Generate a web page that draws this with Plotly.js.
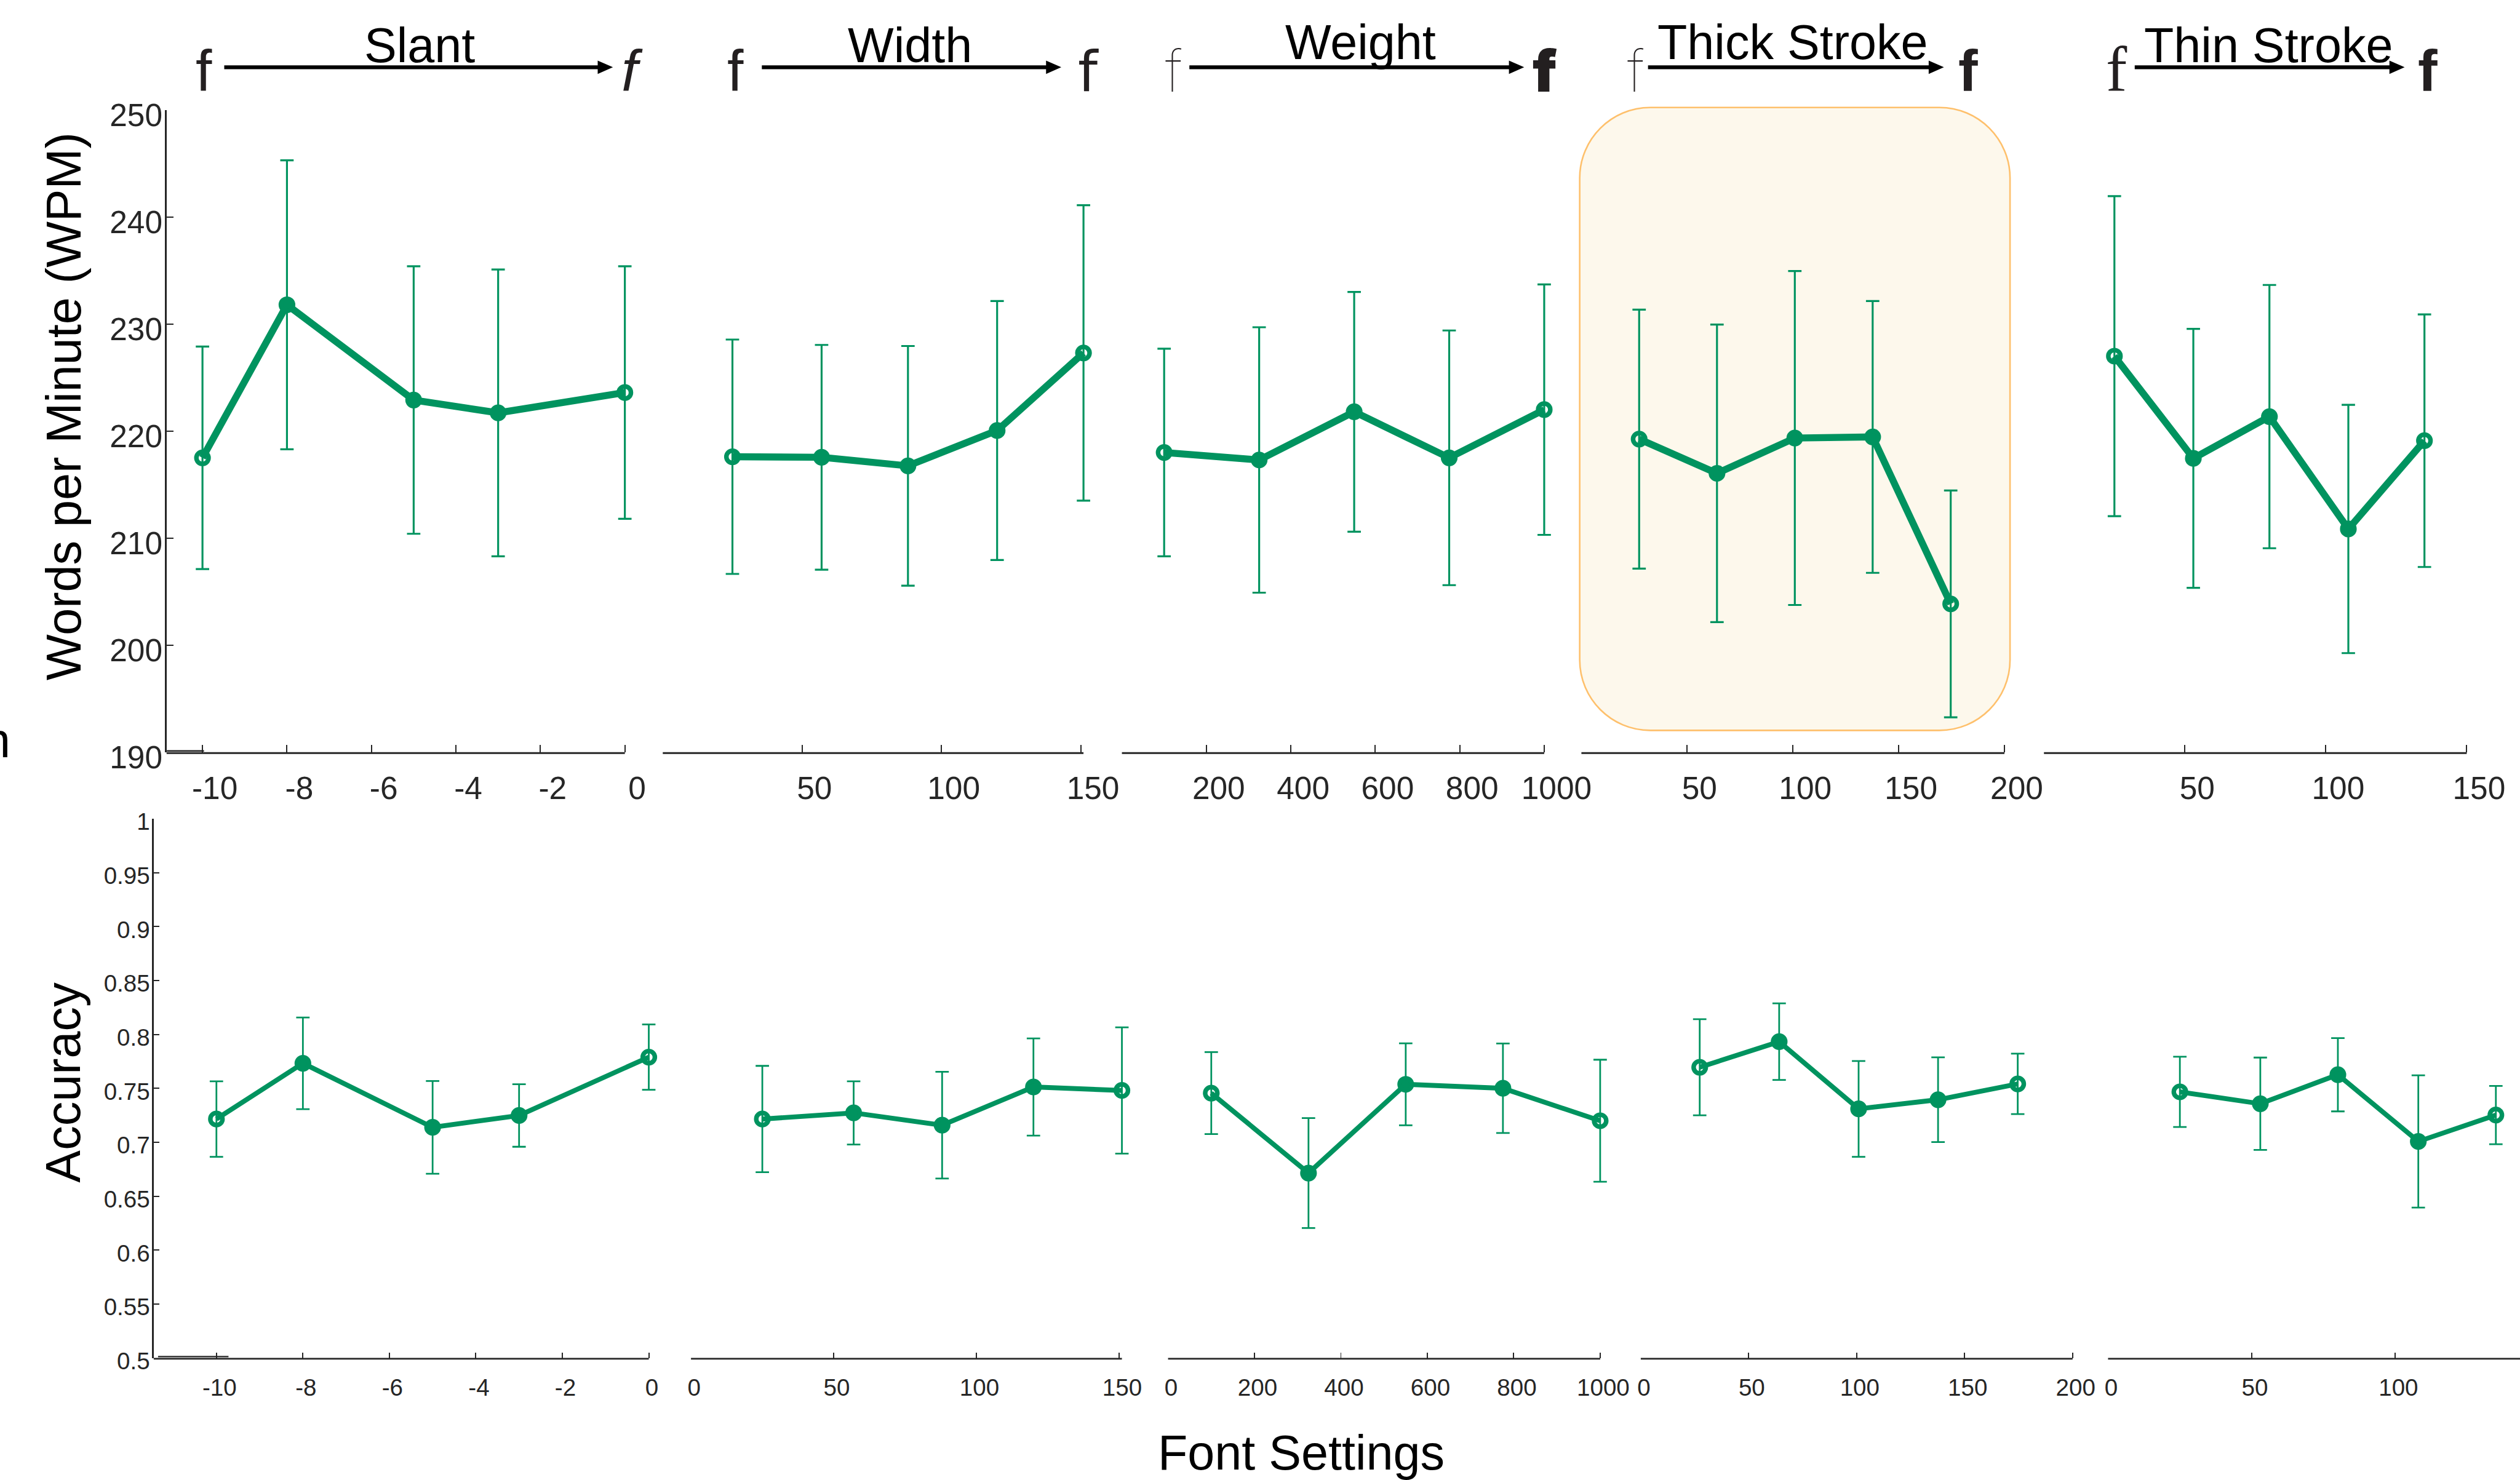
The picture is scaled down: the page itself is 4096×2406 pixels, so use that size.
<!DOCTYPE html>
<html><head><meta charset="utf-8">
<script src="https://cdn.plot.ly/plotly-3.0.1.min.js"></script>
<style>html,body{margin:0;padding:0;background:#fff;overflow:hidden}#chart{width:4096px;height:2406px}</style>
</head><body><div id="chart"></div>
<script>
// ---------------- data ----------------
const slantX = [-10, -8, -5, -3, 0];
const slantWPM = [217.5, 231.8, 222.9, 221.7, 223.6];
const slantWPMErr = [10.4, 13.5, 12.5, 13.4, 11.8];
const slantAcc = [0.7215, 0.7732, 0.7138, 0.7248, 0.7789];
const slantAccErr = [0.035, 0.0425, 0.043, 0.029, 0.0303];

const widthX = [25, 57, 88, 120, 151];
const widthWPM = [217.6, 217.55, 216.75, 220.05, 227.3];
const widthWPMErr = [10.95, 10.5, 11.2, 12.1, 13.8];
const widthAcc = [0.7215, 0.7272, 0.7158, 0.7512, 0.748];
const widthAccErr = [0.0493, 0.0293, 0.0495, 0.045, 0.0585];

const weightX = [100, 325, 550, 775, 1000];
const weightWPM = [218.0, 217.3, 221.8, 217.5, 222.0];
const weightWPMErr = [9.7, 12.4, 11.2, 11.9, 11.7];
const weightAcc = [0.7455, 0.6714, 0.7537, 0.75, 0.7199];
const weightAccErr = [0.038, 0.051, 0.038, 0.0415, 0.0566];

const thickX = [27.3, 64.1, 100.9, 137.7, 174.6];
const thickWPM = [219.25, 216.05, 219.35, 219.45, 203.85];
const thickWPMErr = [12.1, 13.9, 15.6, 12.7, 10.6];
const thickAcc = [0.7695, 0.7932, 0.7309, 0.7394, 0.7541];
const thickAccErr = [0.0446, 0.0355, 0.0444, 0.0393, 0.028];

const thinX = [25, 53, 80, 108, 135];
const thinWPM = [227.0, 217.45, 221.35, 210.85, 219.1];
const thinWPMErr = [14.95, 12.1, 12.3, 11.6, 11.8];
const thinAcc = [0.7467, 0.7357, 0.7626, 0.7007, 0.7252];
const thinAccErr = [0.0326, 0.0428, 0.034, 0.0613, 0.027];

const panelTitles = ['Slant', 'Width', 'Weight', 'Thick Stroke', 'Thin Stroke'];

const wpmTicks = [190, 200, 210, 220, 230, 240, 250];
const wpmTickText = ['190', '200', '210', '220', '230', '240', '250'];
const accTicks = [0.5, 0.55, 0.6, 0.65, 0.7, 0.75, 0.8, 0.85, 0.9, 0.95, 1];
const accTickText = ['0.5', '0.55', '0.6', '0.65', '0.7', '0.75', '0.8', '0.85', '0.9', '0.95', '1'];

const slantTicks = [-10, -8, -6, -4, -2, 0];
const slantTickText = ['-10', '-8', '-6', '-4', '-2', '0'];
const widthTicks = [0, 50, 100, 150];
const widthTickTextTop = ['', '50', '100', '150'];
const widthTickTextBottom = ['0', '50', '100', '150'];
const weightTicks = [0, 200, 400, 600, 800, 1000];
const weightTickTextTop = ['', '200', '400', '600', '800', '1000'];
const weightTickTextBottom = ['0', '200', '400', '600', '800', '1000'];
const thickTicks = [0, 50, 100, 150, 200];
const thickTickTextTop = ['', '50', '100', '150', '200'];
const thickTickTextBottom = ['0', '50', '100', '150', '200'];
const thinTicks = [0, 50, 100, 150];
const thinTickTextTop = ['', '50', '100', '150'];
const thinTickTextBottom = ['0', '50', '100', '150'];

// ---------------- geometry helpers (reference px -> paper) ----------------
const S = 0.989, RW = 4139, RH = 2431;
const fx = p => p / RW, fy = p => 1 - p / RH;
const GREEN = '#00935f';
const INK = '#262626';
const FONT = 'Liberation Sans, Arial, sans-serif';
const I = v => Math.round(v);

const series = [
  {x: slantX, top: [slantWPM, slantWPMErr], bot: [slantAcc, slantAccErr]},
  {x: widthX, top: [widthWPM, widthWPMErr], bot: [widthAcc, widthAccErr]},
  {x: weightX, top: [weightWPM, weightWPMErr], bot: [weightAcc, weightAccErr]},
  {x: thickX, top: [thickWPM, thickWPMErr], bot: [thickAcc, thickAccErr]},
  {x: thinX, top: [thinWPM, thinWPMErr], bot: [thinAcc, thinAccErr]}
];

// axis-line extents (reference px) and data ranges
const topAxes = [
  {d: [273.6, 1026.3], r: [-10.85, 0], tv: slantTicks, tt: slantTickText},
  {d: [1088.6, 1779.6], r: [0, 151], tv: widthTicks, tt: widthTickTextTop},
  {d: [1842.7, 2536.3], r: [0, 1000], tv: weightTicks, tt: weightTickTextTop},
  {d: [2597.4, 3292.2], r: [0, 200], tv: thickTicks, tt: thickTickTextTop},
  {d: [3357.1, 4051.5], r: [0, 150], tv: thinTicks, tt: thinTickTextTop}
];
const botAxes = [
  {d: [252.5, 1065.6], r: [-11.45, 0], tv: slantTicks, tt: slantTickText},
  {d: [1134.9, 1842.7], r: [0, 151], tv: widthTicks, tt: widthTickTextBottom},
  {d: [1918.5, 2628.2], r: [0, 1000], tv: weightTicks, tt: weightTickTextBottom},
  {d: [2694.9, 3404.1], r: [0, 200], tv: thickTicks, tt: thickTickTextBottom},
  {d: [3462.4, 4139], r: [0, 143.4], tv: thinTicks, tt: thinTickTextBottom}
];
const TOP_AX_Y = 1235.4, BOT_AX_Y = 2230.5;
const yTopDom = [fy(TOP_AX_Y), fy(180.7)];
const yBotDom = [fy(BOT_AX_Y), fy(1344.7)];
const PADR = 16; // extra room on the right so end error bars are not clipped

const traces = [];
const layout = {
  width: 4096, height: 2406,
  margin: {l: 0, r: 0, t: 0, b: 0, pad: 0},
  paper_bgcolor: '#ffffff', plot_bgcolor: 'rgba(0,0,0,0)',
  showlegend: false, hovermode: false,
  font: {family: FONT, color: INK},
  shapes: [], annotations: []
};

function mkTrace(xs, ys, errs, k, isTop) {
  const n = xs.length;
  const id = k === 1 ? '' : String(k);
  return {
    type: 'scatter', mode: 'lines+markers', x: xs, y: ys,
    xaxis: 'x' + id, yaxis: 'y' + id, cliponaxis: false,
    line: {color: GREEN, width: (isTop ? 11.5 : 8) * S},
    marker: {color: GREEN, size: 20 * S,
      symbol: xs.map((_, i) => (i === 0 || i === n - 1) ? 'circle-open' : 'circle'),
      line: {color: GREEN, width: 7.5 * S}},
    error_y: {type: 'data', array: errs, symmetric: true, color: GREEN,
      thickness: (isTop ? 3.2 : 2.8) * S, width: 11 * S},
    hoverinfo: 'skip'
  };
}

function extend(ax) {
  if (ax.d[1] >= RW) return {dom: [fx(ax.d[0]), 1], range: ax.r};
  const upp = (ax.r[1] - ax.r[0]) / (ax.d[1] - ax.d[0]);
  return {dom: [fx(ax.d[0]), fx(ax.d[1] + PADR)], range: [ax.r[0], ax.r[1] + PADR * upp]};
}

for (let i = 0; i < 5; i++) {
  const kt = i + 1, kb = i + 6;
  traces.push(mkTrace(series[i].x, series[i].top[0], series[i].top[1], kt, true));
  traces.push(mkTrace(series[i].x, series[i].bot[0], series[i].bot[1], kb, false));

  const ta = topAxes[i], ba = botAxes[i];
  const et = extend(ta), eb = extend(ba);
  const nameX = k => 'xaxis' + (k === 1 ? '' : k), nameY = k => 'yaxis' + (k === 1 ? '' : k);
  const anc = k => (k === 1 ? '' : String(k));
  layout[nameX(kt)] = {
    domain: et.dom, range: et.range, anchor: 'y' + anc(kt),
    showline: false, ticks: 'inside', ticklen: 12 * S,
    tickwidth: 2 * S, tickcolor: INK, tickmode: 'array', tickvals: ta.tv, ticktext: ta.tt,
    tickfont: {family: FONT, size: 52 * S, color: INK}, ticklabelstandoff: I(24 * S),
    ticklabelshift: I(20 * S), showgrid: false, zeroline: false, fixedrange: true
  };
  layout[nameX(kb)] = {
    domain: eb.dom, range: eb.range, anchor: 'y' + anc(kb),
    showline: false, ticks: 'inside', ticklen: 9 * S,
    tickwidth: 2 * S, tickcolor: INK, tickmode: 'array', tickvals: ba.tv, ticktext: ba.tt,
    tickfont: {family: FONT, size: 39 * S, color: INK}, ticklabelstandoff: I(22 * S),
    ticklabelshift: I(5 * S), showgrid: false, zeroline: false, fixedrange: true
  };
  // axis lines drawn at their exact extents
  layout.shapes.push({type: 'line', xref: 'paper', yref: 'paper', x0: fx(ta.d[0]), x1: fx(ta.d[1]),
    y0: fy(TOP_AX_Y + 1.5), y1: fy(TOP_AX_Y + 1.5), line: {color: INK, width: 3 * S}});
  layout.shapes.push({type: 'line', xref: 'paper', yref: 'paper', x0: fx(ba.d[0]), x1: Math.min(1, fx(ba.d[1])),
    y0: fy(BOT_AX_Y + 1.3), y1: fy(BOT_AX_Y + 1.3), line: {color: INK, width: 2.6 * S}});

  const first = i === 0;
  layout[nameY(kt)] = {
    domain: yTopDom, range: [190, 250], anchor: 'x' + anc(kt),
    visible: first, showline: first, linecolor: INK, linewidth: 2.5 * S,
    ticks: first ? 'inside' : '', ticklen: 11 * S, tickwidth: 2 * S, tickcolor: INK,
    tickmode: 'array', tickvals: wpmTicks, ticktext: wpmTickText,
    tickfont: {family: FONT, size: 52 * S, color: INK}, ticklabelstandoff: I(-6 * S),
    ticklabelshift: I(8 * S), showgrid: false, zeroline: false, fixedrange: true
  };
  layout[nameY(kb)] = {
    domain: yBotDom, range: [0.5, 1], anchor: 'x' + anc(kb),
    visible: first, showline: first, linecolor: INK, linewidth: 2.5 * S,
    ticks: first ? 'inside' : '', ticklen: 9 * S, tickwidth: 2 * S, tickcolor: INK,
    tickmode: 'array', tickvals: accTicks, ticktext: accTickText,
    tickfont: {family: FONT, size: 39 * S, color: INK}, ticklabelstandoff: I(-4 * S),
    ticklabelshift: I(5 * S), showgrid: false, zeroline: false, fixedrange: true
  };
}

// highlight rounded box behind the Thick Stroke panel
(function () {
  const L = 2594.6, R = 3301.4, T = 176.6, B = 1199.7, r = 116, k = 0.5523 * r;
  const P = (x, y) => fx(x) + ',' + fy(y);
  const path = 'M' + P(L + r, T) + ' L' + P(R - r, T) +
    ' C' + P(R - r + k, T) + ' ' + P(R, T + r - k) + ' ' + P(R, T + r) +
    ' L' + P(R, B - r) +
    ' C' + P(R, B - r + k) + ' ' + P(R - r + k, B) + ' ' + P(R - r, B) +
    ' L' + P(L + r, B) +
    ' C' + P(L + r - k, B) + ' ' + P(L, B - r + k) + ' ' + P(L, B - r) +
    ' L' + P(L, T + r) +
    ' C' + P(L, T + r - k) + ' ' + P(L + r - k, T) + ' ' + P(L + r, T) + ' Z';
  layout.shapes.push({type: 'path', xref: 'paper', yref: 'paper', path: path, layer: 'below',
    fillcolor: '#fdf8ec', line: {color: '#fec06c', width: 2.6 * S}});
})();

// header arrows
const arrowSpans = [[368.3, 1006.7], [1251.3, 1743.1], [1953.5, 2503.4], [2706.8, 3192.8], [3506.2, 3949.5]];
const AY = 110.5;
arrowSpans.forEach(([a, b]) => {
  layout.shapes.push({type: 'line', xref: 'paper', yref: 'paper', x0: fx(a), x1: fx(b - 16), y0: fy(AY), y1: fy(AY),
    line: {color: '#000', width: 6.5 * S}});
  layout.shapes.push({type: 'path', xref: 'paper', yref: 'paper',
    path: 'M' + fx(b) + ',' + fy(AY) + ' L' + fx(b - 25) + ',' + fy(AY - 11) + ' L' + fx(b - 25) + ',' + fy(AY + 11) + ' Z',
    fillcolor: '#000', line: {width: 0}});
});

// small stray segments near the first x-axes (present in reference)
layout.shapes.push({type: 'line', xref: 'paper', yref: 'paper', x0: fx(274), x1: fx(335), y0: fy(1233.5), y1: fy(1233.5), line: {color: INK, width: 2.5 * S}});
layout.shapes.push({type: 'line', xref: 'paper', yref: 'paper', x0: fx(259.6), x1: fx(375.3), y0: fy(2228.3), y1: fy(2228.3), line: {color: INK, width: 2.5 * S}});

// panel titles
const titleCenters = [[689, 74.6], [1495, 74.6], [2235, 68.8], [2944.6, 68.8], [3726, 74.6]];
panelTitles.forEach((t, i) => {
  layout.annotations.push({text: t, xref: 'paper', yref: 'paper', x: fx(titleCenters[i][0]), y: fy(titleCenters[i][1]),
    xanchor: 'center', yanchor: 'middle', showarrow: false,
    font: {family: FONT, size: 80 * S, color: '#000'}});
});

// the "f" glyph specimens at both ends of each arrow
const glyphs = [
  {x: 335, fam: FONT, size: 96, w: 400, st: 'normal'},
  {x: 1038, fam: FONT, size: 96, w: 400, st: 'italic'},
  {x: 1208.5, fam: 'Liberation Sans Narrow, Liberation Sans', size: 96, w: 400, st: 'normal'},
  {x: 1787.5, fam: 'DejaVu Sans', size: 92, w: 400, st: 'normal'},
  {x: 1928, fam: 'Inter, Lato, sans-serif', size: 95, w: 100, st: 'normal'},
  {x: 2537, fam: 'Inter, Roboto, sans-serif', size: 95, w: 900, st: 'normal'},
  {x: 2687, fam: 'Inter, Lato, sans-serif', size: 95, w: 100, st: 'normal'},
  {x: 3233, fam: FONT, size: 96, w: 700, st: 'normal'},
  {x: 3477, fam: 'Liberation Serif, serif', size: 104, w: 400, st: 'normal'},
  {x: 3987, fam: FONT, size: 96, w: 700, st: 'normal'}
];
glyphs.forEach(g => {
  layout.annotations.push({text: 'f', xref: 'paper', yref: 'paper', x: fx(g.x), y: fy(149.2 - 0.3465 * g.size),
    xanchor: 'center', yanchor: 'middle', showarrow: false,
    font: {family: g.fam, size: g.size * S, color: '#231f20', weight: g.w, style: g.st}});
});

// axis titles
layout.annotations.push({text: 'Words per Minute (WPM)', xref: 'paper', yref: 'paper', x: fx(104), y: fy(667),
  xanchor: 'center', yanchor: 'middle', textangle: -90, showarrow: false, font: {family: FONT, size: 80 * S, color: '#000'}});
layout.annotations.push({text: 'Accuracy', xref: 'paper', yref: 'paper', x: fx(104), y: fy(1778),
  xanchor: 'center', yanchor: 'middle', textangle: -90, showarrow: false, font: {family: FONT, size: 80 * S, color: '#000'}});
layout.annotations.push({text: 'Font Settings', xref: 'paper', yref: 'paper', x: fx(2137), y: fy(2386),
  xanchor: 'center', yanchor: 'middle', showarrow: false, font: {family: FONT, size: 80 * S, color: '#000'}});
// clipped fragment at the left edge (as in the reference)
layout.annotations.push({text: 'n', xref: 'paper', yref: 'paper', x: fx(19), y: fy(1216),
  xanchor: 'right', yanchor: 'middle', showarrow: false, font: {family: FONT, size: 80 * S, color: '#000'}});

Plotly.newPlot('chart', traces, layout, {staticPlot: true, displayModeBar: false});
</script>
</body></html>
